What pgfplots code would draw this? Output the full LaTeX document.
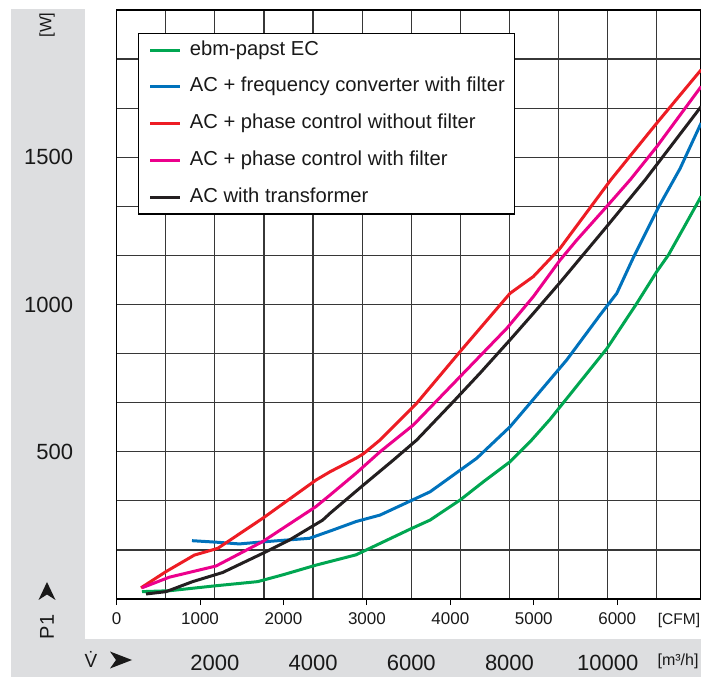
\documentclass[border=0pt]{standalone}
\usepackage{fontspec}
\setmainfont{Liberation Sans}
\usepackage{pgfplots}
\pgfplotsset{compat=1.18}

\definecolor{band}{RGB}{221,222,224}
\definecolor{ecgreen}{RGB}{0,166,81}
\definecolor{fcblue}{RGB}{0,114,188}
\definecolor{pcred}{RGB}{237,28,36}
\definecolor{pcpink}{RGB}{236,0,140}
\definecolor{trblack}{RGB}{35,31,32}
\definecolor{gridgray}{RGB}{55,55,55}

\newcommand{\fs}[1]{\fontsize{#1}{#1}\selectfont}

\begin{document}
\begin{tikzpicture}[x=1pt,y=1pt]
% grey bands (left and bottom)
\fill[band] (11,0) rectangle (85,667.5);
\fill[band] (11,0) rectangle (701,38);

% m3/h scale: vertical grid and band labels
\begin{axis}[
  at={(116.6pt,78pt)}, anchor=south west,
  scale only axis, width=584.4pt, height=589pt,
  xmin=0, xmax=11900, ymin=0, ymax=1,
  axis line style={draw=none},
  ytick=\empty,
  xtick={1000,2000,...,11000},
  xticklabels={,2000,,4000,,6000,,8000,,10000,},
  scaled x ticks=false,
  major tick length=0pt,
  xmajorgrids,
  grid style={gridgray, line width=1.2pt},
  xticklabel style={font=\fs{22}, anchor=base, yshift=-71pt, text=black!90},
]
\end{axis}

% main axis: CFM and W
\begin{axis}[
  at={(116.6pt,78pt)}, anchor=south west,
  scale only axis, width=584.4pt, height=589pt,
  xmin=0, xmax=11900, ymin=0, ymax=2000,
  axis line style={black, line width=1.2pt},
  xtick={0,1699,3398,5097,6796,8495,10194},
  xticklabels={0,1000,2000,3000,4000,5000,6000},
  scaled x ticks=false,
  xtick pos=bottom, tick align=outside,
  major tick length=6pt,
  tick style={black, line width=1pt},
  ytick={0,500,1000,1500,2000},
  yticklabels={,500,1000,1500,},
  minor y tick num=2,
  ytick style={draw=none},
  ymajorgrids, yminorgrids,
  grid style={gridgray, line width=1.2pt},
  minor grid style={gridgray, line width=1.2pt},
  xticklabel style={font=\fs{17}, anchor=base, yshift=-20pt, text=black!90},
  yticklabel style={font=\fs{22}, anchor=east, xshift=-34pt, text=black!90},
  legend cell align=left,
  legend image code/.code={\draw[#1, line width=3pt] (0pt,0pt) -- (30pt,0pt);},
  legend style={at={(0.0371,0.9615)}, anchor=north west, draw=black,
    line width=1.2pt, fill=white, font=\fs{20.2}, text=black!90,
    inner xsep=10pt, inner ysep=8pt, column sep=8pt, row sep=18.7pt,
    nodes={inner sep=0pt, text height=14pt, text depth=4pt}},
  every axis plot/.append style={line width=3pt},
]
\addplot[ecgreen] coordinates {
(517,25) (1073,28) (2024,45) (2873,59) (3383,82) (4061,115) (4876,150)
(5975,237) (6383,268) (6994,336) (7468,398) (8012,466) (8420,534)
(8826,610) (9437,737) (9982,850) (10593,1004) (11000,1112) (11236,1168)
(11542,1259) (11902,1367)};
\addlegendentry{ebm-papst EC}

\addplot[fcblue] coordinates {
(1535,198) (2024,193) (2499,187) (2975,194) (3925,206) (4401,234)
(4876,263) (5365,285) (6383,364) (7334,478) (8012,585) (8420,665)
(9167,812) (9847,965) (10185,1038) (10524,1160) (11033,1330)
(11475,1462) (11902,1616)};
\addlegendentry{AC + frequency converter with filter}

\addplot[pcred] coordinates {
(497,38) (1006,93) (1582,149) (2059,172) (2975,274) (4061,404)
(4346,432) (4876,478) (5025,493) (5365,540) (6112,665) (6994,840)
(8012,1038) (8487,1095) (9031,1191) (10062,1423) (11000,1616)
(11902,1797)};
\addlegendentry{AC + phase control without filter}

\addplot[pcpink] coordinates {
(517,38) (1073,74) (2024,112) (2975,195) (4061,314) (4346,353)
(4876,427) (5365,500) (6043,591) (6994,755) (7945,919) (8487,1027)
(9031,1151) (9371,1219) (9982,1333) (10456,1423) (11000,1536)
(11902,1740)};
\addlegendentry{AC + phase control with filter}

\addplot[trblack] coordinates {
(599,17) (1006,25) (1549,59) (2160,90) (2975,155) (3517,200)
(4197,268) (4346,291) (5025,387) (5637,472) (6112,540) (6857,670)
(7401,767) (8012,880) (8487,970) (9031,1075) (9982,1265)
(10762,1423) (11902,1672)};
\addlegendentry{AC with transformer}
\end{axis}

% unit labels
\node[font=\fs{15.5}, text=black!90] at (679,57) {[CFM]};
\node[font=\fs{16}, text=black!90] at (678,16) {[m³/h]};
\node[font=\fs{16.5}, text=black!90, rotate=90] at (47,652) {[W]};
\node[font=\fs{20}, text=black!90, rotate=90] at (47,50) {P1};
\fill[black!90] (47,95) -- (55.5,77) -- (47,82.5) -- (38.5,77) -- cycle;
\node[font=\fs{19}, text=black!90] at (91,17.5) {\.{V}};
\fill[black!90] (132,17) -- (110,25.5) -- (116,17) -- (110,8.5) -- cycle;

\pgfresetboundingbox
\path[use as bounding box] (0,0) rectangle (701,677);
\end{tikzpicture}
\end{document}
